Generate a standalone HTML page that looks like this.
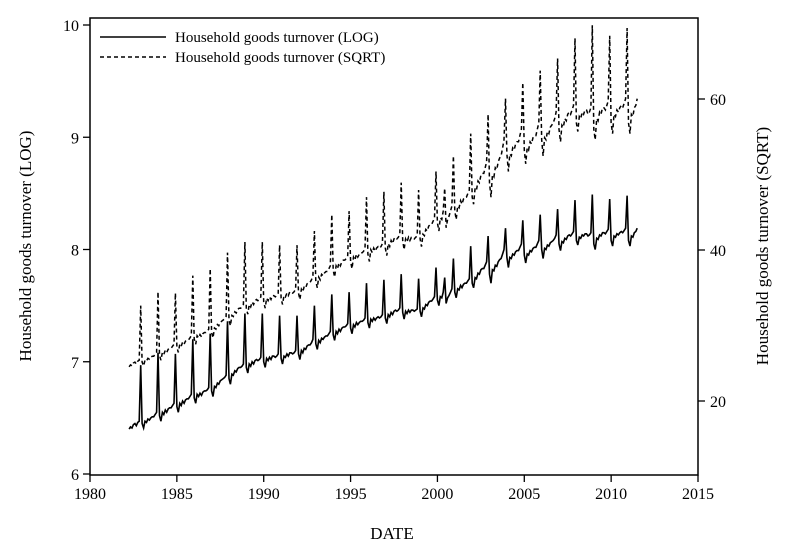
<!DOCTYPE html>
<html><head><meta charset="utf-8"><style>
body{margin:0;background:#fff}
svg text{font-family:"Liberation Serif",serif;fill:#000}
</style></head><body>
<svg id="chart" width="788" height="548" viewBox="0 0 788 548" xmlns="http://www.w3.org/2000/svg">
<rect x="90" y="18" width="608" height="457" fill="none" stroke="#000" stroke-width="1.5"/>
<g id="axes"></g>
<path id="sqrt-line" d="" fill="none" stroke="#000" stroke-width="1.5" stroke-dasharray="4,3"/>
<path id="log-line" d="" fill="none" stroke="#000" stroke-width="1.6"/>
<g>
<line x1="100" y1="37" x2="166" y2="37" stroke="#000" stroke-width="1.5"/>
<text x="175" y="42" font-size="15">Household goods turnover (LOG)</text>
<line x1="100" y1="57" x2="166" y2="57" stroke="#000" stroke-width="1.5" stroke-dasharray="4,3"/>
<text x="175" y="62" font-size="15">Household goods turnover (SQRT)</text>
</g>
<text x="31" y="246" font-size="17" text-anchor="middle" transform="rotate(-90 31 246)">Household goods turnover (LOG)</text>
<text x="768" y="246" font-size="17" text-anchor="middle" transform="rotate(-90 768 246)">Household goods turnover (SQRT)</text>
<text x="392" y="539" font-size="17" text-anchor="middle">DATE</text>
</svg>
<script>
const startYear = 1982, startMonth = 4;
const logValues = [
6.40,6.42,6.41,6.44,6.45,6.43,6.46,6.47,6.97,
6.45,6.41,6.47,6.46,6.49,6.48,6.50,6.51,6.51,6.53,6.55,7.08,
6.52,6.47,6.55,6.53,6.57,6.55,6.58,6.59,6.59,6.61,6.63,7.07,
6.60,6.55,6.63,6.61,6.65,6.63,6.66,6.67,6.67,6.69,6.71,7.20,
6.68,6.63,6.71,6.69,6.72,6.70,6.73,6.74,6.74,6.75,6.77,7.25,
6.74,6.69,6.78,6.77,6.81,6.80,6.83,6.84,6.85,6.86,6.88,7.36,
6.85,6.80,6.89,6.88,6.92,6.91,6.94,6.95,6.95,6.96,6.98,7.43,
6.95,6.90,6.98,6.96,7.00,6.98,7.01,7.02,7.01,7.02,7.04,7.43,
7.00,6.95,7.03,7.01,7.04,7.02,7.05,7.05,7.04,7.05,7.07,7.41,
7.03,6.98,7.05,7.04,7.07,7.05,7.08,7.08,7.07,7.08,7.10,7.41,
7.07,7.02,7.10,7.08,7.12,7.11,7.14,7.15,7.15,7.17,7.20,7.50,
7.16,7.11,7.19,7.17,7.21,7.20,7.22,7.23,7.23,7.25,7.27,7.60,
7.24,7.19,7.27,7.25,7.29,7.27,7.30,7.31,7.31,7.32,7.34,7.62,
7.30,7.25,7.33,7.31,7.35,7.33,7.35,7.36,7.36,7.37,7.39,7.70,
7.35,7.30,7.38,7.36,7.39,7.37,7.39,7.40,7.39,7.40,7.42,7.73,
7.39,7.34,7.42,7.40,7.44,7.42,7.45,7.46,7.45,7.46,7.48,7.78,
7.44,7.38,7.45,7.43,7.46,7.44,7.46,7.46,7.45,7.46,7.47,7.74,
7.45,7.40,7.48,7.47,7.51,7.50,7.53,7.54,7.54,7.56,7.58,7.84,
7.55,7.50,7.58,7.57,7.62,7.75,7.52,7.57,7.59,7.62,7.65,7.92,
7.62,7.57,7.65,7.64,7.68,7.66,7.69,7.70,7.70,7.72,7.74,8.03,
7.70,7.66,7.75,7.74,7.79,7.78,7.82,7.83,7.83,7.86,7.89,8.12,
7.78,7.70,7.82,7.81,7.86,7.85,7.89,7.91,7.92,7.96,8.00,8.19,
7.93,7.84,7.93,7.92,7.96,7.95,7.98,7.99,7.99,8.02,8.05,8.26,
7.95,7.88,7.96,7.95,7.99,7.98,8.01,8.02,8.02,8.05,8.08,8.31,
8.00,7.92,8.01,8.00,8.04,8.03,8.06,8.07,8.08,8.10,8.13,8.36,
8.05,7.99,8.07,8.06,8.10,8.09,8.12,8.13,8.12,8.14,8.16,8.44,
8.08,8.04,8.11,8.10,8.13,8.12,8.14,8.14,8.12,8.13,8.15,8.49,
8.05,8.00,8.10,8.09,8.13,8.12,8.15,8.15,8.14,8.16,8.18,8.45,
8.08,8.03,8.12,8.11,8.14,8.13,8.15,8.16,8.15,8.17,8.19,8.48,
8.08,8.03,8.12,8.11,8.15,8.16,8.19
];
const xTicks = [1980,1985,1990,1995,2000,2005,2010,2015];
const leftTicks = [6,7,8,9,10];
const rightTicks = [20,40,60];

const xS = t => 90 + (t - 1980) * (608 / 35);
const yL = v => 474 - (v - 6) * 112.25;
const yR = v => 250 - (v - 40) * 7.55;
const NS = "http://www.w3.org/2000/svg";
const axes = document.getElementById('axes');
function mk(tag, attrs) { const e = document.createElementNS(NS, tag); for (const k in attrs) e.setAttribute(k, attrs[k]); axes.appendChild(e); return e; }

xTicks.forEach(t => {
  const l = mk('line', {x1: xS(t), x2: xS(t), y1: 475, y2: 482, stroke: '#000', 'stroke-width': 1.3});
  
  
  const tx = mk('text', {x: xS(t), y: 499, 'font-size': 16, 'text-anchor': 'middle'});
  tx.textContent = t;
  
  
});
leftTicks.forEach(t => {
  const l = mk('line', {x1: 83, x2: 90, y1: yL(t), y2: yL(t), stroke: '#000', 'stroke-width': 1.3});
  
  
  const tx = mk('text', {x: 79, y: yL(t) + 6, 'font-size': 16, 'text-anchor': 'end'});
  tx.textContent = t;
  
  
});
rightTicks.forEach(t => {
  const l = mk('line', {x1: 698, x2: 705, y1: yR(t), y2: yR(t), stroke: '#000', 'stroke-width': 1.3});
  
  
  const tx = mk('text', {x: 710, y: yR(t) + 6, 'font-size': 16});
  tx.textContent = t;
  
  
});

let dLog = '', dSqrt = '';
logValues.forEach((v, i) => {
  const t = startYear + (startMonth - 1 + i) / 12;
  const x = xS(t).toFixed(1);
  const s = Math.sqrt(Math.exp(v));
  dLog += (i ? 'L' : 'M') + x + ',' + yL(v).toFixed(1);
  dSqrt += (i ? 'L' : 'M') + x + ',' + yR(s).toFixed(1);
});
document.getElementById('log-line').setAttribute('d', dLog);
document.getElementById('sqrt-line').setAttribute('d', dSqrt);
</script>
</body></html>
